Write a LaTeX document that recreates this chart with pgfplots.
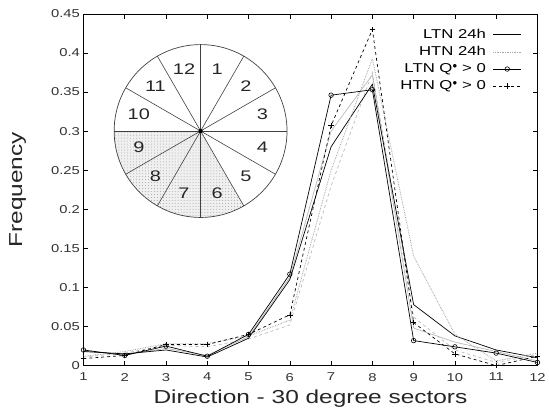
\documentclass[border=0pt]{standalone}
\usepackage{fontspec}
\setmainfont[FakeStretch=1.3]{Liberation Sans}
\usepackage{pgfplots}
\pgfplotsset{compat=1.18}
\usetikzlibrary{patterns,calc}

\begin{document}
\begin{tikzpicture}
\begin{axis}[
  scale only axis,
  width=457bp, height=354bp,
  xmin=1, xmax=12, ymin=0, ymax=0.45,
  xtick={1,...,12},
  ytick={0,0.05,...,0.45},
  tick align=inside,
  major tick length=5bp,
  tick style={black, line width=0.6pt},
  axis line style={line width=0.7pt},
  /pgf/number format/assume math mode=true,
  yticklabel style={/pgf/number format/fixed, /pgf/number format/precision=2},
  tick label style={font=\fontsize{11.5}{11.5}\selectfont, text=black!80},
  xticklabel style={yshift=-4bp},
  xlabel={Direction - 30 degree sectors},
  ylabel={Frequency},
  label style={font=\fontsize{19}{19}\selectfont, text=black!85},
  xlabel style={at={(axis description cs:0.5,-0.093)}, anchor=center},
  ylabel style={at={(axis description cs:-0.145,0.5)}, anchor=center},
  legend style={draw=none, fill=none, font=\fontsize{13}{13}\selectfont,
    at={(rel axis cs:0.972,0.968)}, anchor=north east, row sep=2.5bp,
    /tikz/every odd column/.append style={column sep=5bp}},
  legend cell align=right,
  legend plot pos=right,
  legend image code/.code={\draw[mark repeat=2, mark phase=2, #1] plot coordinates {(0bp,0bp) (14bp,0bp) (28bp,0bp)};},
  every axis plot/.append style={line width=0.7pt},
]
% faint gray companions (scan look)
\addplot[gray!55, forget plot] coordinates {(1,0.019)(2,0.014)(3,0.022)(4,0.013)(5,0.037)(6,0.113)(7,0.300)(8,0.372)(9,0.048)(10,0.030)(11,0.018)(12,0.006)};
\addplot[gray!55, dashed, forget plot] coordinates {(1,0.011)(2,0.016)(3,0.026)(4,0.024)(5,0.034)(6,0.052)(7,0.230)(8,0.375)(9,0.062)(10,0.020)(11,0.004)(12,0.014)};

\addplot[black] coordinates {(1,0.018)(2,0.015)(3,0.020)(4,0.011)(5,0.035)(6,0.110)(7,0.280)(8,0.360)(9,0.078)(10,0.038)(11,0.020)(12,0.010)};
\addplot[gray!70, densely dotted, line width=0.9pt] coordinates {(1,0.012)(2,0.018)(3,0.028)(4,0.028)(5,0.038)(6,0.058)(7,0.250)(8,0.393)(9,0.140)(10,0.040)(11,0.006)(12,0.016)};
\addplot[black, mark=o, mark size=2.3bp, mark options={solid, line width=0.6pt}] coordinates {(1,0.020)(2,0.013)(3,0.025)(4,0.012)(5,0.040)(6,0.117)(7,0.346)(8,0.353)(9,0.032)(10,0.024)(11,0.016)(12,0.004)};
\addplot[black, dashed, mark=+, mark size=2.8bp, mark options={solid, line width=0.6pt}] coordinates {(1,0.009)(2,0.013)(3,0.027)(4,0.027)(5,0.040)(6,0.065)(7,0.307)(8,0.430)(9,0.055)(10,0.015)(11,0.000)(12,0.012)};
\legend{LTN 24h, HTN 24h, LTN Q$^{\bullet}$ > 0, HTN Q$^{\bullet}$ > 0}

\coordinate (pc) at (rel axis cs:0.258,0.667);
\coordinate (ll) at (rel axis cs:0,0);
\coordinate (ur) at (rel axis cs:1,1);
\end{axis}

% direction inset (not data)
\def\R{87bp}
\fill[white] (pc) circle[radius=\R];
\fill[gray!12] (pc) -- ++(180:\R) arc[start angle=180, end angle=300, radius=\R] -- cycle;
\fill[pattern=dots, pattern color=gray!70] (pc) -- ++(180:\R) arc[start angle=180, end angle=300, radius=\R] -- cycle;
\foreach \a in {0,30,...,330} {
  \draw[black!75, line width=0.6pt] (pc) -- ++(\a:\R);
}
\draw[black!75, line width=0.7pt] (pc) circle[radius=\R];
\fill[black] (pc) circle[radius=2.2bp];
\foreach \k in {1,...,12} {
  \pgfmathsetmacro{\ang}{90-30*\k+15}
  \node[font=\fontsize{15.5}{15.5}\selectfont, text=black!85] at ($(pc)+(\ang:0.74*\R)$) {\k};
}
% page margins as in the reference
\path[use as bounding box] ($(ll)+(-84bp,-49bp)$) rectangle ($(ur)+(8bp,14bp)$);
\end{tikzpicture}
\end{document}
